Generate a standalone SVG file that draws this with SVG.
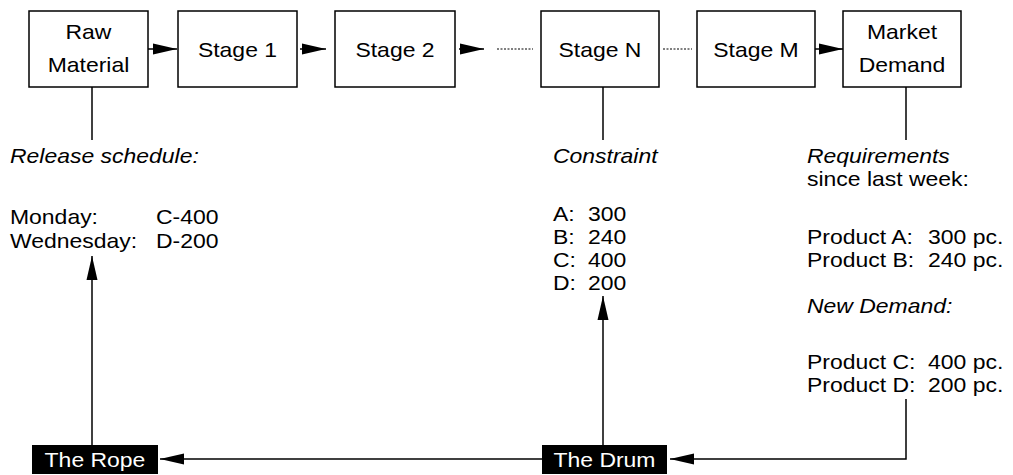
<svg xmlns="http://www.w3.org/2000/svg" width="1013" height="475" viewBox="0 0 1013 475">
  <style>
    text { font-family: "Liberation Sans", Arial, Helvetica, sans-serif; font-size: 20.5px; fill: #000; }
    .it { font-style: italic; }
    .mid { text-anchor: middle; }
    .inv { fill: #fff; }
    .box { fill: #fff; stroke: #000; stroke-width: 1.5; }
    .blk { fill: #000; stroke: none; }
    .ln { fill: none; stroke: #000; stroke-width: 1.5; }
    .dot { fill: none; stroke: #000; stroke-width: 1; stroke-dasharray: 2 1.5; }
  </style>
  <defs>
    <marker id="head" markerUnits="userSpaceOnUse" markerWidth="24" markerHeight="12" refX="24" refY="6" orient="auto">
      <path d="M0,0.5 L24,6 L0,11.5 z" fill="#000"/>
    </marker>
  </defs>

  <rect width="1013" height="475" fill="#fff"/>

  <!-- process chain (labels use a slightly widened face: x is divided by 1.12) -->
  <g id="raw-material">
    <rect class="box" x="29" y="11" width="119" height="76"/>
    <g transform="scale(1.12 1)">
      <text class="mid" x="79.02" y="39">Raw</text>
      <text class="mid" x="79.02" y="72">Material</text>
    </g>
  </g>
  <g id="stage-1">
    <rect class="box" x="178" y="11" width="119" height="76"/>
    <text class="mid" transform="scale(1.12 1)" x="212.05" y="57">Stage 1</text>
  </g>
  <g id="stage-2">
    <rect class="box" x="335" y="11" width="120" height="76"/>
    <text class="mid" transform="scale(1.12 1)" x="352.68" y="57">Stage 2</text>
  </g>
  <g id="stage-n">
    <rect class="box" x="541" y="11" width="118" height="76"/>
    <text class="mid" transform="scale(1.12 1)" x="535.71" y="57">Stage N</text>
  </g>
  <g id="stage-m">
    <rect class="box" x="697" y="11" width="118" height="76"/>
    <text class="mid" transform="scale(1.12 1)" x="675" y="57">Stage M</text>
  </g>
  <g id="market-demand">
    <rect class="box" x="843" y="11" width="118" height="76"/>
    <g transform="scale(1.12 1)">
      <text class="mid" x="805.36" y="39">Market</text>
      <text class="mid" x="805.36" y="72">Demand</text>
    </g>
  </g>

  <!-- annotations -->
  <g id="release-schedule" transform="scale(1.12 1)">
    <text class="it" x="8.93" y="163">Release schedule:</text>
    <text x="8.93" y="224">Monday:</text>
    <text x="139.29" y="224">C-400</text>
    <text x="8.93" y="248">Wednesday:</text>
    <text x="139.29" y="248">D-200</text>
  </g>
  <g id="constraint" transform="scale(1.12 1)">
    <text class="it" x="493.75" y="163">Constraint</text>
    <text x="493.75" y="221">A:</text><text x="525" y="221">300</text>
    <text x="493.75" y="244">B:</text><text x="525" y="244">240</text>
    <text x="493.75" y="267">C:</text><text x="525" y="267">400</text>
    <text x="493.75" y="290">D:</text><text x="525" y="290">200</text>
  </g>
  <g id="requirements" transform="scale(1.12 1)">
    <text class="it" x="720.54" y="163">Requirements</text>
    <text x="720.54" y="186">since last week:</text>
    <text x="720.54" y="244">Product A:</text><text x="828.57" y="244">300 pc.</text>
    <text x="720.54" y="267">Product B:</text><text x="828.57" y="267">240 pc.</text>
    <text class="it" x="720.54" y="313">New Demand:</text>
    <text x="720.54" y="369">Product C:</text><text x="828.57" y="369">400 pc.</text>
    <text x="720.54" y="392">Product D:</text><text x="828.57" y="392">200 pc.</text>
  </g>

  <g id="the-rope">
    <rect class="blk" x="32" y="445" width="126" height="29"/>
    <text class="inv mid" transform="scale(1.12 1)" x="84.82" y="467">The Rope</text>
  </g>
  <g id="the-drum">
    <rect class="blk" x="542" y="445" width="125" height="29"/>
    <text class="inv mid" transform="scale(1.12 1)" x="539.73" y="467">The Drum</text>
  </g>

  <!-- connectors -->
  <g id="connectors">
    <line class="ln" x1="148" y1="49" x2="177" y2="49" marker-end="url(#head)"/>
    <line class="ln" x1="300" y1="49" x2="326" y2="49" marker-end="url(#head)"/>
    <line class="ln" x1="459" y1="49" x2="484" y2="49" marker-end="url(#head)"/>
    <line class="dot" x1="497" y1="49" x2="533" y2="49"/>
    <line class="dot" x1="663" y1="49" x2="692" y2="49"/>
    <line class="ln" x1="815" y1="49" x2="843" y2="49" marker-end="url(#head)"/>

    <line class="ln" x1="92" y1="87" x2="92" y2="140"/>
    <line class="ln" x1="603" y1="87" x2="603" y2="140"/>
    <line class="ln" x1="906" y1="87" x2="906" y2="140"/>

    <polyline class="ln" points="906,399 906,459 670,459" marker-end="url(#head)"/>
    <line class="ln" x1="542" y1="459" x2="160" y2="459" marker-end="url(#head)"/>
    <line class="ln" x1="603" y1="445" x2="603" y2="296" marker-end="url(#head)"/>
    <line class="ln" x1="92" y1="445" x2="92" y2="256" marker-end="url(#head)"/>
  </g>
</svg>
